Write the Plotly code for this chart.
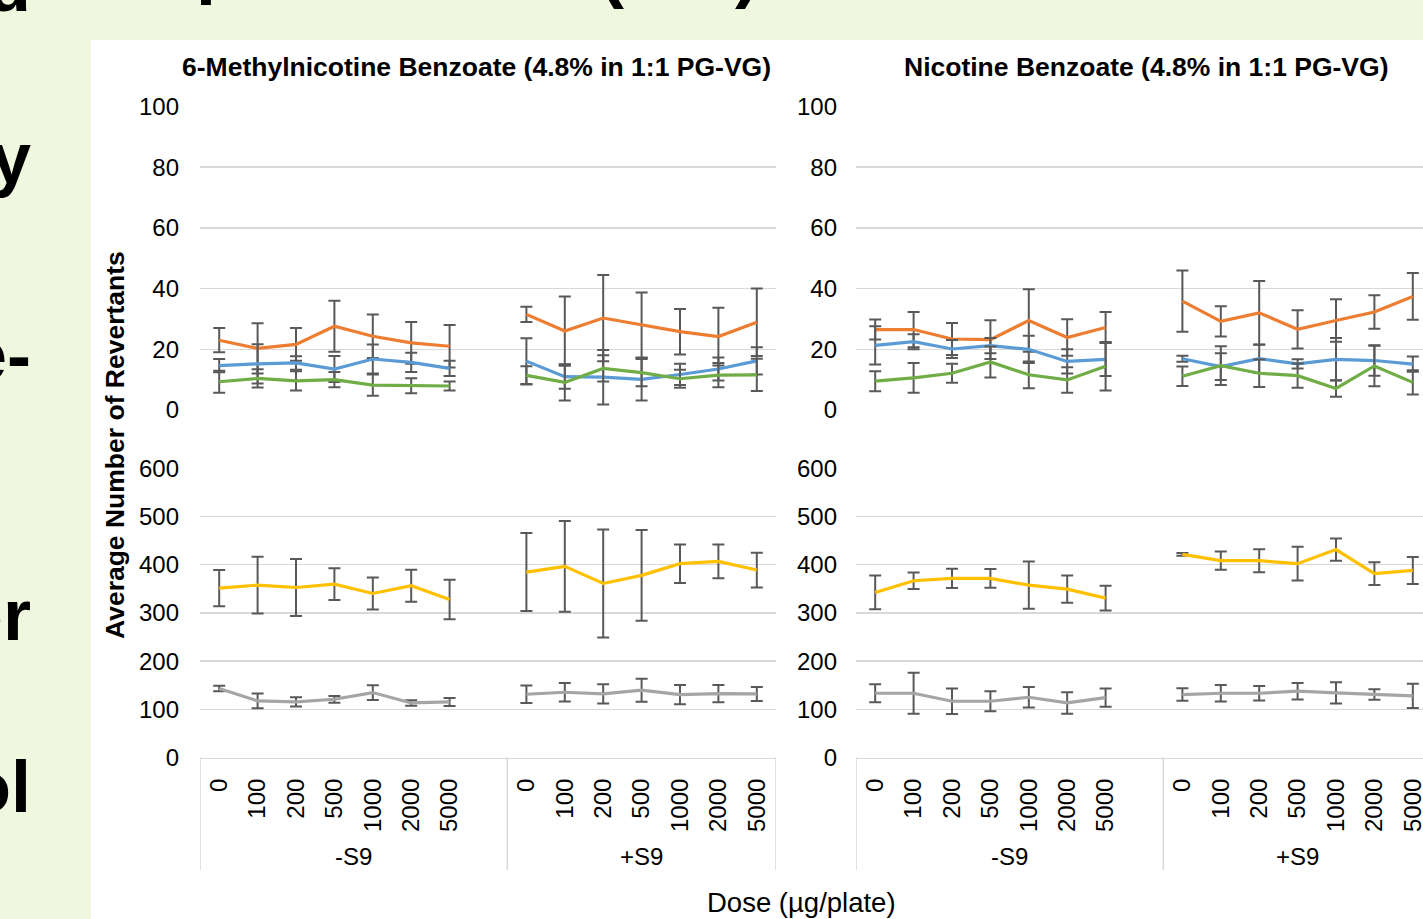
import plotly.graph_objects as go

W, H = 1423, 919
FONT = "Liberation Sans, Arial, sans-serif"

doses = ["0", "100", "200", "500", "1000", "2000", "5000"]
groups = ["-S9", "+S9"]
titles = ["6-Methylnicotine Benzoate (4.8% in 1:1 PG-VG)", "Nicotine Benzoate (4.8% in 1:1 PG-VG)"]
y_title = "Average Number of Revertants"
x_title = "Dose (µg/plate)"
upper_ticks = [0, 20, 40, 60, 80, 100]
lower_ticks = [0, 100, 200, 300, 400, 500, 600]

# ---- 6-Methylnicotine Benzoate: upper panel (means, SD) ----
mn_orange_minus = [23.0, 20.3, 21.6, 27.6, 24.3, 22.1, 21.0]
mn_orange_minus_sd = [4.0, 8.3, 5.4, 8.4, 7.2, 6.9, 7.0]
mn_orange_plus = [31.5, 26.0, 30.3, 28.0, 25.8, 24.2, 28.9]
mn_orange_plus_sd = [2.5, 11.4, 14.2, 10.7, 7.5, 9.5, 11.1]
mn_blue_minus = [14.6, 15.2, 15.5, 13.5, 16.8, 15.7, 13.7]
mn_blue_minus_sd = [2.2, 6.5, 2.2, 4.3, 4.8, 3.2, 2.5]
mn_blue_plus = [16.1, 11.0, 10.8, 10.1, 11.7, 13.5, 16.2]
mn_blue_plus_sd = [7.5, 4.0, 9.0, 7.0, 3.5, 3.8, 4.5]
mn_green_minus = [9.3, 10.4, 9.6, 10.0, 8.2, 8.0, 7.9]
mn_green_minus_sd = [3.6, 3.0, 3.2, 2.5, 3.5, 2.5, 1.5]
mn_green_plus = [11.4, 9.1, 13.7, 12.3, 10.3, 11.5, 11.6]
mn_green_plus_sd = [3.0, 6.0, 4.3, 4.5, 3.0, 4.0, 5.3]
# ---- 6-Methylnicotine Benzoate: lower panel ----
mn_yellow_minus = [351.4, 357.6, 352.7, 359.7, 340.3, 356.3, 327.8]
mn_yellow_minus_sd = [37.6, 59, 59, 32.7, 33.3, 33.3, 41]
mn_yellow_plus = [384.7, 396.5, 361.1, 377.8, 402.1, 406.9, 388.9]
mn_yellow_plus_sd = [81, 94, 112, 94, 40, 35, 36]
mn_grey_minus = [143.1, 117.4, 115.3, 120.8, 134.7, 113.2, 115.3]
mn_grey_minus_sd = [5.5, 15.2, 9.7, 7, 15.3, 5.6, 8.3]
mn_grey_plus = [131.2, 135.4, 131.9, 139.6, 130.6, 132.6, 131.9]
mn_grey_plus_sd = [18, 19, 20, 24, 20, 18, 14.6]

# ---- Nicotine Benzoate: upper panel ----
nb_orange_minus = [26.5, 26.5, 23.4, 23.2, 29.5, 23.9, 27.2]
nb_orange_minus_sd = [3.3, 5.8, 5.3, 6.4, 10.3, 6.0, 5.1]
nb_orange_plus = [35.9, 29.2, 32.0, 26.6, 29.5, 32.3, 37.4]
nb_orange_plus_sd = [10.1, 5.0, 10.5, 6.3, 7.0, 5.5, 7.7]
nb_blue_minus = [21.3, 22.5, 20.1, 21.2, 20.0, 16.0, 16.7]
nb_blue_minus_sd = [6.3, 2.5, 3.0, 2.5, 4.5, 4.0, 5.5]
nb_blue_plus = [16.9, 14.3, 16.9, 15.2, 16.7, 16.3, 15.1]
nb_blue_plus_sd = [1.0, 4.4, 4.7, 1.5, 7.0, 5.0, 2.5]
nb_green_minus = [9.5, 10.6, 12.1, 15.8, 11.6, 9.9, 14.4]
nb_green_minus_sd = [3.3, 4.9, 3.1, 5.1, 4.4, 4.2, 8.0]
nb_green_plus = [11.1, 14.6, 12.1, 11.3, 7.1, 14.5, 9.1]
nb_green_plus_sd = [3.2, 6.4, 4.5, 4.0, 2.7, 6.7, 4.0]
# ---- Nicotine Benzoate: lower panel ----
nb_yellow_minus = [342.4, 366.7, 371.5, 371.5, 357.6, 349.3, 330.6]
nb_yellow_minus_sd = [35, 17, 20, 19.5, 49, 28.5, 25.7]
nb_yellow_plus = [421.5, 408.3, 408.3, 402.1, 431.3, 381.3, 388.2]
nb_yellow_plus_sd = [3, 19, 24, 35, 23, 23.6, 28]
nb_grey_minus = [133.3, 133.3, 116.7, 116.7, 125, 113.2, 124.3]
nb_grey_minus_sd = [18.7, 42.4, 26.3, 20.8, 21.5, 22.2, 18.8]
nb_grey_plus = [130.6, 133.3, 133.3, 137.5, 134, 130.6, 127.8]
nb_grey_plus_sd = [13, 17, 15, 17, 22, 11, 25]

ORANGE, BLUE, GREEN, YELLOW, GREY = "#ED7D31", "#5B9BD5", "#70AD47", "#FFC000", "#A5A5A5"
ERR = "#595959"
GRID = "#D9D9D9"
TXT = "#000000"

# categories: 7 doses (-S9), one blank slot, 7 doses (+S9)
cat_x = list(range(15))
tick_pos = list(range(7)) + list(range(8, 15))
tick_txt = doses + doses


def join(a, b):
    return list(a) + [None] + list(b)


fig = go.Figure()


def add(xa, ya, minus, minus_sd, plus, plus_sd, color):
    fig.add_trace(go.Scatter(
        x=cat_x, y=join(minus, plus), xaxis=xa, yaxis=ya, mode="lines",
        line=dict(color=color, width=3.2), connectgaps=False, showlegend=False,
        error_y=dict(type="data", array=join(minus_sd, plus_sd), color=ERR,
                     thickness=2, width=6, visible=True),
        hoverinfo="skip"))


add("x", "y", mn_orange_minus, mn_orange_minus_sd, mn_orange_plus, mn_orange_plus_sd, ORANGE)
add("x", "y", mn_blue_minus, mn_blue_minus_sd, mn_blue_plus, mn_blue_plus_sd, BLUE)
add("x", "y", mn_green_minus, mn_green_minus_sd, mn_green_plus, mn_green_plus_sd, GREEN)
add("x2", "y2", mn_yellow_minus, mn_yellow_minus_sd, mn_yellow_plus, mn_yellow_plus_sd, YELLOW)
add("x2", "y2", mn_grey_minus, mn_grey_minus_sd, mn_grey_plus, mn_grey_plus_sd, GREY)
add("x3", "y3", nb_orange_minus, nb_orange_minus_sd, nb_orange_plus, nb_orange_plus_sd, ORANGE)
add("x3", "y3", nb_blue_minus, nb_blue_minus_sd, nb_blue_plus, nb_blue_plus_sd, BLUE)
add("x3", "y3", nb_green_minus, nb_green_minus_sd, nb_green_plus, nb_green_plus_sd, GREEN)
add("x4", "y4", nb_yellow_minus, nb_yellow_minus_sd, nb_yellow_plus, nb_yellow_plus_sd, YELLOW)
add("x4", "y4", nb_grey_minus, nb_grey_minus_sd, nb_grey_plus, nb_grey_plus_sd, GREY)


def px(x):
    return x / W


def py(y):
    return 1 - y / H


CAT_W = 38.4
L_X0, L_X1 = 200, 776
R_X0 = 856
UP_TOP, UP_BOT = 106.5, 410
LO_TOP, LO_BOT = 468.3, 757.5
dom_L = [px(L_X0), px(L_X1)]
dom_R = [px(R_X0), 1.0]
range_R = [-0.5, -0.5 + (W - R_X0) / CAT_W]
dom_up = [py(UP_BOT), py(UP_TOP)]
dom_lo = [py(LO_BOT), py(LO_TOP)]

tickfont = dict(family=FONT, size=24, color=TXT)


def xa_upper(domain, rng, anchor):
    return dict(domain=domain, range=rng, anchor=anchor, showticklabels=False,
                showgrid=False, zeroline=False, showline=False, ticks="", fixedrange=True)


def xa_lower(domain, rng, anchor):
    return dict(domain=domain, range=rng, anchor=anchor, tickmode="array",
                tickvals=tick_pos, ticktext=tick_txt, tickangle=-90, tickfont=tickfont,
                showgrid=False, zeroline=False, showline=True, linecolor=GRID,
                linewidth=1.5, ticks="", ticklabelstandoff=10, fixedrange=True,
                automargin=False, ticklabeloverflow="allow")


def ya(domain, rng, tv, anchor, standoff):
    return dict(domain=domain, range=rng, anchor=anchor, tickmode="array", tickvals=tv,
                ticktext=[str(v) for v in tv], tickfont=tickfont, showgrid=True,
                gridcolor=GRID, gridwidth=1.5, zeroline=False, showline=False,
                ticks="", ticklabelstandoff=standoff, fixedrange=True, automargin=False)


fig.update_layout(
    width=W, height=H, margin=dict(l=0, r=0, t=0, b=0, pad=0, autoexpand=False),
    paper_bgcolor="#EFF8DF", plot_bgcolor="rgba(0,0,0,0)",
    font=dict(family=FONT, color=TXT),
    xaxis=xa_upper(dom_L, [-0.5, 14.5], "y"),
    yaxis=ya(dom_up, [0, 100], upper_ticks, "x", 20),
    xaxis2=xa_lower(dom_L, [-0.5, 14.5], "y2"),
    yaxis2=ya(dom_lo, [0, 600], lower_ticks, "x2", 20),
    xaxis3=xa_upper(dom_R, range_R, "y3"),
    yaxis3=ya(dom_up, [0, 100], upper_ticks, "x3", 18),
    xaxis4=xa_lower(dom_R, range_R, "y4"),
    yaxis4=ya(dom_lo, [0, 600], lower_ticks, "x4", 18),
    showlegend=False,
)

shapes = [dict(type="rect", xref="paper", yref="paper", x0=px(91), x1=1, y0=0, y1=py(40),
               fillcolor="white", line=dict(width=0), layer="below")]
for xref, xs in (("x2", [-0.5, 7.5, 14.5]), ("x4", [-0.5, 7.5])):
    for xv in xs:
        shapes.append(dict(type="line", xref=xref, yref="paper", x0=xv, x1=xv,
                           y0=py(LO_BOT), y1=py(870), line=dict(color=GRID, width=1.5)))
fig.update_layout(shapes=shapes)


def txt(text, x, y, size, bold=False, angle=0, xref="paper", xanchor="center"):
    return dict(text=("<b>%s</b>" % text) if bold else text, x=x, y=y, xref=xref, yref="paper",
                xanchor=xanchor, yanchor="middle", textangle=angle, showarrow=False,
                font=dict(size=size, family=FONT, color=TXT))


ann = [
    txt(titles[0], px(476.5), py(67), 26.5, bold=True),
    txt(titles[1], px(1145.5), py(67), 26.5, bold=True),
    txt(y_title, px(115), py(445), 26.5, bold=True, angle=-90),
    txt(x_title, px(801.5), py(902), 27.5),
]
for xref in ("x2", "x4"):
    for gx, g in zip([3.5, 11.0], groups):
        ann.append(txt(g, gx, py(856), 24, xref=xref))

# fragments of the slide text behind the chart
FR = 72
off = 0.3465 * FR
for t, base in (("y", 183), ("e-", 380), ("or", 640), ("ol", 812), ("d", 11)):
    ann.append(txt(t, px(33), py(base - off), FR, bold=True, xanchor="right"))
for t, xl, base in (("p", 194, -10), ("(", 598, -6), (")", 733, -6)):
    ann.append(txt(t, px(xl), py(base - off), FR, bold=True, xanchor="left"))
fig.update_layout(annotations=ann)

fig.write_html(
    "out.html",
    config={"displayModeBar": False, "staticPlot": True},
    post_script="document.body.style.margin='0';document.body.style.overflow='hidden';",
)
